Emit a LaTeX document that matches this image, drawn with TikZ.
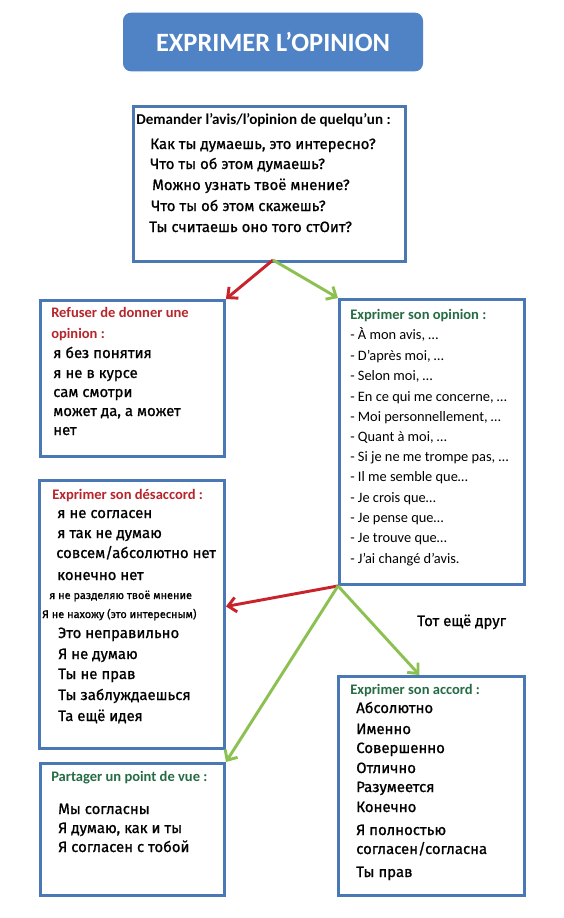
\documentclass[tikz,border=0pt]{standalone}
\usepackage{fontspec}
\setmainfont{Carlito}
\newfontfamily\rufont{Fira Sans}[FakeBold=0.9]
\usetikzlibrary{arrows.meta}
\definecolor{frame}{HTML}{4A78B4}
\definecolor{titlefill}{HTML}{5083C6}
\definecolor{nored}{HTML}{C8232B}
\definecolor{yesgreen}{HTML}{8CC152}
\definecolor{headred}{HTML}{B5252B}
\definecolor{headgreen}{HTML}{256B43}
\tikzset{
  box/.style={draw=frame, line width=2.2pt, inner sep=0pt, anchor=north west},
  titlebox/.style={fill=titlefill, rounded corners=6pt, minimum width=225pt, minimum height=44pt,
    text=white, font=\bfseries\fontsize{19.8}{22}\selectfont},
  head/.style={anchor=base west, inner sep=0pt, font=\bfseries\fontsize{10.9}{12}\selectfont},
  ru/.style={anchor=base west, inner sep=0pt, font=\rufont\fontsize{11.2}{13}\selectfont},
  rusmall/.style={ru, font=\rufont\fontsize{8.2}{10}\selectfont},
  fr/.style={anchor=base west, inner sep=0pt, font=\fontsize{10.8}{12}\selectfont},
  noarrow/.style={draw=nored, line width=2.2pt, -{Straight Barb[length=6pt,width=11pt]}},
  yesarrow/.style={draw=yesgreen, line width=2.2pt, -{Straight Barb[length=6pt,width=11pt]}}
}
\begin{document}
\begin{tikzpicture}[x=0.75pt,y=-0.75pt]
\useasboundingbox (0,0) rectangle (564,918);

% title
\node[titlebox] (title) at (273,42) {EXPRIMER L’OPINION};

% boxes
\node[box, minimum width=204pt, minimum height=116.25pt] (ask) at (132,105) {};
\node[box, minimum width=138pt, minimum height=117pt] (refuse) at (39,299) {};
\node[box, minimum width=138.75pt, minimum height=213.75pt] (opinion) at (338,298) {};
\node[box, minimum width=138.75pt, minimum height=201pt] (disagree) at (38,479) {};
\node[box, minimum width=139.5pt, minimum height=164.25pt] (accord) at (337,675) {};
\node[box, minimum width=138pt, minimum height=99pt] (share) at (39,762) {};

% ask
\node[head, font=\bfseries\fontsize{11.3}{12}\selectfont] (askh) at (136,124) {Demander l’avis/l’opinion de quelqu’un :};
\foreach \y/\x/\t [count=\i] in {149/150/{Как ты думаешь, это интересно?},
    169/150/{Что ты об этом думаешь?}, 190/152/{Можно узнать твоё мнение?},
    211/151/{Что ты об этом скажешь?}, 232/149/{Ты считаешь оно того стОит?}}
  \node[ru] (ask\i) at (\x,\y) {\t};

% refuse
\node[head, text=headred] (refh1) at (51,317) {Refuser de donner une};
\node[head, text=headred] (refh2) at (51,338) {opinion :};
\foreach \y/\t [count=\i] in {358/{я без понятия}, 378/{я не в курсе}, 397/{сам смотри},
    416/{может да, а может}, 435/{нет}}
  \node[ru] (ref\i) at (53,\y) {\t};

% opinion
\node[head, text=headgreen] (oph) at (350,319) {Exprimer son opinion :};
\foreach \y/\t [count=\i] in {339/{- À mon avis, …}, 360/{- D’après moi, …}, 380/{- Selon moi, …},
    401/{- En ce qui me concerne, …}, 421/{- Moi personnellement, …}, 441/{- Quant à moi, …},
    461/{- Si je ne me trompe pas, …}, 481/{- Il me semble que…}, 502/{- Je crois que…},
    522/{- Je pense que…}, 542/{- Je trouve que…}, 563/{- J’ai changé d’avis.}}
  \node[fr] (op\i) at (350,\y) {\t};

% disagree
\node[head, text=headred] (dish) at (52,499) {Exprimer son désaccord :};
\foreach \y/\x/\t [count=\i] in {518/57/{я не согласен}, 538/57/{я так не думаю},
    558/56/{совсем/абсолютно нет}, 580/57/{конечно нет}, 638/58/{Это неправильно},
    659/58/{Я не думаю}, 679/58/{Ты не прав}, 700/58/{Ты заблуждаешься}, 721/58/{Та ещё идея}}
  \node[ru] (dis\i) at (\x,\y) {\t};
\node[rusmall] (dissm1) at (49,599) {я не разделяю твоё мнение};
\node[rusmall] (dissm2) at (42,618) {Я не нахожу (это интересным)};

% accord
\node[head, text=headgreen] (acch) at (350,694) {Exprimer son accord :};
\foreach \y/\t [count=\i] in {713/{Абсолютно}, 734/{Именно}, 753/{Совершенно}, 773/{Отлично},
    792/{Разумеется}, 812/{Конечно}, 835/{Я полностью}, 854/{согласен/согласна}, 877/{Ты прав}}
  \node[ru] (acc\i) at (356,\y) {\t};

% share
\node[head, text=headgreen] (shh) at (51,781) {Partager un point de vue :};
\foreach \y/\t [count=\i] in {814/{Мы согласны}, 833/{Я думаю, как и ты}, 852/{Я согласен с тобой}}
  \node[ru] (sh\i) at (58,\y) {\t};

\node[ru] (friend) at (417,626) {Тот ещё друг};

% arrows
\coordinate (split) at (273,260);
\draw[noarrow] (split) -- (refuse.north east);
\draw[yesarrow] (split) -- (opinion.north west);
\draw[noarrow] (opinion.south west) -- ([yshift=6pt]disagree.east);
\draw[yesarrow] (opinion.south west) -- ([xshift=-9pt]accord.north);
\draw[yesarrow] (opinion.south west) -- (share.north east);
\end{tikzpicture}
\end{document}
